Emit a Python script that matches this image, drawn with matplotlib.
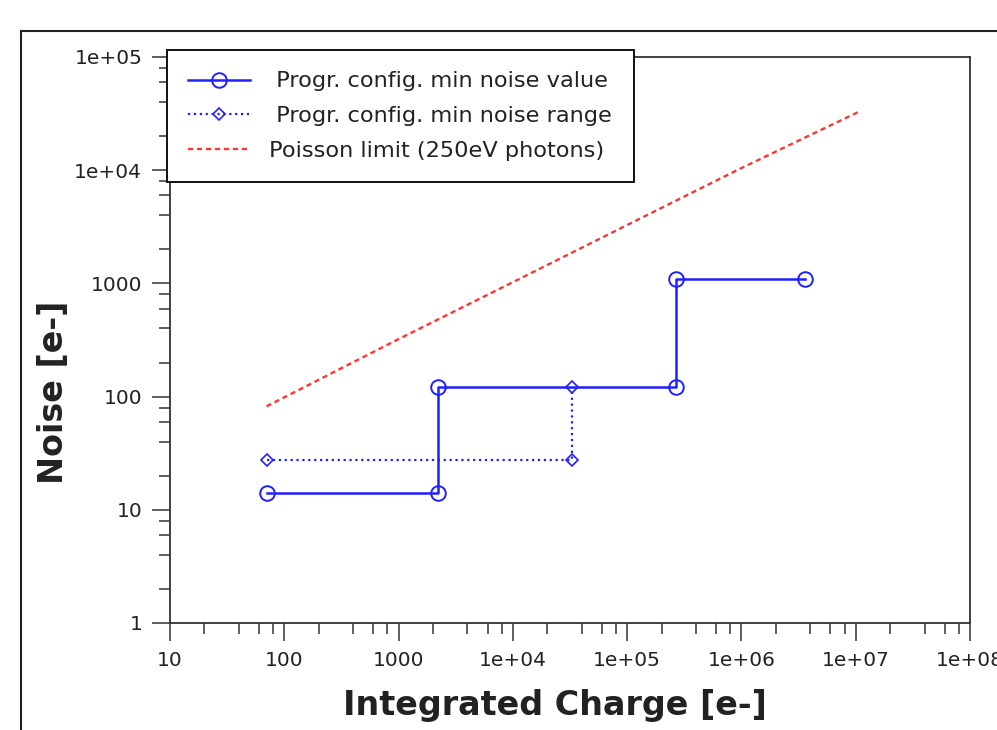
import numpy as np
import matplotlib
matplotlib.use('Agg')
import matplotlib.pyplot as plt
from matplotlib.patches import Rectangle
from matplotlib.ticker import FixedLocator, FixedFormatter, LogLocator, NullFormatter

# values
min_value_charge = [70, 2200, 2200, 270000, 270000, 3.6e6]
min_value_noise = [14, 14, 122, 122, 1100, 1100]

min_range_charge = [70, 33000, 33000]
min_range_noise = [27.5, 27.5, 122]

poisson_charge = [70, 1000, 1e4, 1e5, 1e6, 1.05e7]
poisson_noise = [82, 322, 1025, 3280, 10440, 32600]

x_ticks = [10, 100, 1000, 1e4, 1e5, 1e6, 1e7, 1e8]
x_tick_labels = ['10', '100', '1000', '1e+04', '1e+05', '1e+06', '1e+07', '1e+08']
y_ticks = [1, 10, 100, 1000, 1e4, 1e5]
y_tick_labels = ['1', '10', '100', '1000', '1e+04', '1e+05']

labels = [' Progr. config. min noise value',
          ' Progr. config. min noise range',
          'Poisson limit (250eV photons)']

W, H = 997, 730
fig = plt.figure(figsize=(W / 100, H / 100), dpi=100)
ax = fig.add_axes([170 / W, 1 - 623 / H, 800 / W, 566 / H])

blue = '#2020ff'
ax.plot(min_value_charge, min_value_noise, color=blue, lw=1.8, marker='o', ms=10.5,
        mfc='none', mec=blue, mew=1.4, label=labels[0])
ax.plot(min_range_charge, min_range_noise, color=blue, lw=1.6, ls=':', marker='D', ms=6.3,
        mfc='none', mec=blue, mew=1.2, label=labels[1])
ax.plot(poisson_charge, poisson_noise, color='#ff3535', lw=1.7, ls=(0, (2.2, 1.6)),
        label=labels[2])

ax.set_xscale('log')
ax.set_yscale('log')
ax.set_xlim(10, 1e8)
ax.set_ylim(1, 1e5)

for axis, ticks, tl in ((ax.xaxis, x_ticks, x_tick_labels), (ax.yaxis, y_ticks, y_tick_labels)):
    axis.set_major_locator(FixedLocator(ticks))
    axis.set_major_formatter(FixedFormatter(tl))
    axis.set_minor_locator(LogLocator(base=10, subs=(2, 4, 6, 8), numticks=20))
    axis.set_minor_formatter(NullFormatter())

ax.tick_params(which='major', direction='out', length=13, width=1.1, color='#333333',
               labelsize=14.5, labelcolor='#222222', pad=7)
ax.tick_params(which='minor', direction='out', length=8, width=1.1, color='#333333')
ax.tick_params(top=False, right=False)
for s in ax.spines.values():
    s.set_color('#333333')
    s.set_linewidth(1.3)

ax.set_xlabel('Integrated Charge [e-]', fontsize=24, fontweight='bold', color='#222222', va='center')
ax.xaxis.set_label_coords((555 - 170) / 800, (623 - 705) / 566)
ax.set_ylabel('Noise [e-]', fontsize=24, fontweight='bold', color='#222222', va='center')
ax.yaxis.set_label_coords((53 - 170) / 800, (623 - 392) / 566)

leg = ax.legend(loc='upper left', bbox_to_anchor=(167 / W, 1 - 50 / H), bbox_transform=fig.transFigure,
                borderaxespad=0, fontsize=16.2, fancybox=False, framealpha=1, edgecolor='#111111',
                borderpad=0.95, handlelength=2.75, handletextpad=0.85, labelspacing=0.66)
leg.get_frame().set_linewidth(1.4)
for t in leg.get_texts():
    t.set_color('#222222')

# outer frame around the plot
fig.add_artist(Rectangle((21 / W, -0.1), 1.2, 1.1 - 31 / H, transform=fig.transFigure,
                         fill=False, edgecolor='#222222', lw=1.5))

fig.savefig('out.png', dpi=100)
